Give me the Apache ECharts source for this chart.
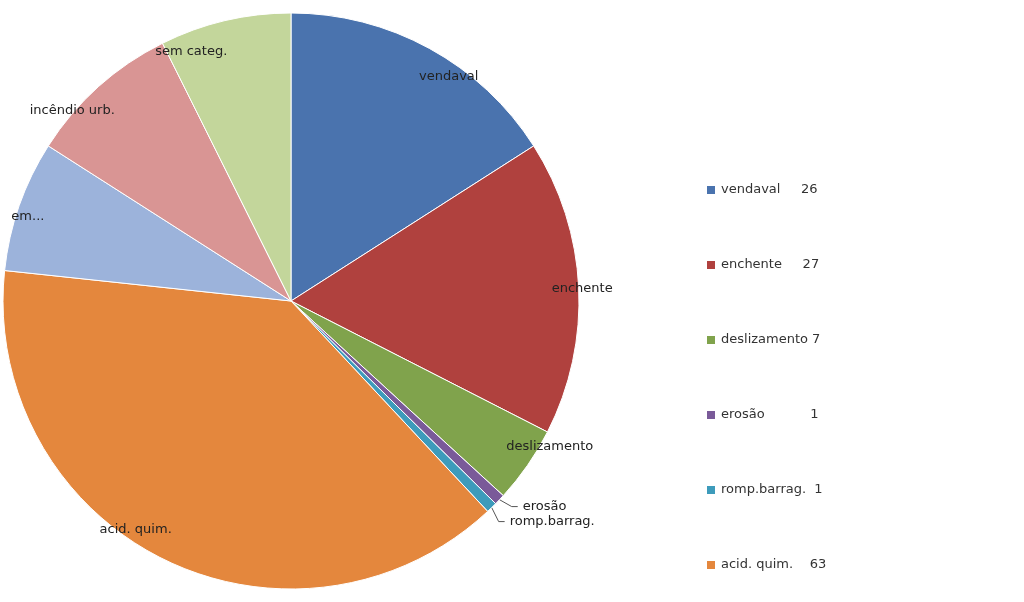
<!DOCTYPE html>
<html><head><meta charset="utf-8">
<script src="https://cdn.jsdelivr.net/npm/echarts@6/dist/echarts.min.js"></script>
<style>html,body{margin:0;padding:0;background:#fff}#c{width:1024px;height:602px}</style>
</head><body><div id="c"></div>
<script>
var categories = ['vendaval','enchente','deslizamento','erosão','romp.barrag.','acid. quim.','emerg.quím.','incêndio urb.','sem categ.'];
var values = [26,27,7,1,1,63,12,14,12];
var legendLabels = ['vendaval     26','enchente     27','deslizamento 7','erosão           1','romp.barrag.  1','acid. quim.    63','emerg.quím.12','incêndio urb.14','sem categ.   12'];
var colors = ['#4a73ae','#b0413e','#80a34c','#7a5a99','#3d9bbb','#e4873d','#9cb3db','#d99594','#c3d69b'];
var mainData = categories.map(function(n,i){
  var small = values[i] === 1;
  return {name:n, value:values[i], label:{show:small}, labelLine:{show:small}};
});
var overlayData = categories.map(function(n,i){
  return {name:n, value:values[i], label:{show:values[i] !== 1}};
});
var chart = echarts.init(document.getElementById('c'));
chart.setOption({
  animation:false,
  color:colors,
  legend:{
    left:700, top:154, width:324, itemWidth:10, itemHeight:10, itemGap:13,
    icon:'rect', data:categories,
    formatter:function(n){return legendLabels[categories.indexOf(n)];},
    textStyle:{fontFamily:'DejaVu Sans', fontSize:13, color:'#333', width:140, lineHeight:62}
  },
  series:[
    {type:'pie', center:[291,301], radius:[0,288], startAngle:90, clockwise:true,
     data:mainData, silent:true,
     itemStyle:{borderColor:'#fff', borderWidth:1},
     label:{position:'outside', fontFamily:'DejaVu Sans', fontSize:13, color:'#222'},
     labelLine:{length:10, length2:6, lineStyle:{color:'#555'}}
    },
    {type:'pie', center:[291,301], radius:[0,256], startAngle:90, clockwise:true,
     data:overlayData, silent:true,
     itemStyle:{color:'rgba(0,0,0,0)'},
     label:{position:'outside', fontFamily:'DejaVu Sans', fontSize:13, color:'#222'},
     labelLine:{show:false, length:0, length2:0}
    }
  ]
});
</script></body></html>
